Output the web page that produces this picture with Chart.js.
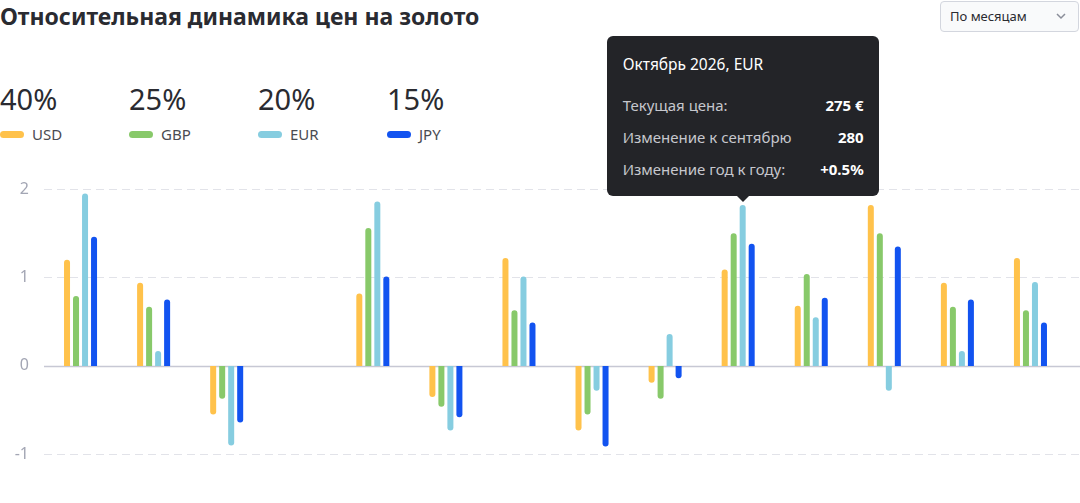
<!DOCTYPE html>
<html lang="ru">
<head>
<meta charset="utf-8">
<script src="https://cdn.jsdelivr.net/npm/chart.js@4/dist/chart.umd.min.js"></script>
<style>
  body { margin: 0; width: 1080px; height: 503px; background: #fff; position: relative; overflow: hidden;
    font-family: "Noto Sans", "Open Sans", sans-serif; color: #2a2b31; }
  h1 { position: absolute; left: 0; top: 0; margin: 0; font-size: 23px; font-weight: 700; line-height: 32px; letter-spacing: 0; }
  .sel { position: absolute; left: 940px; top: 1px; width: 139px; height: 31px; box-sizing: border-box;
    border: 1px solid #d3d6de; border-radius: 4px; background: #f9fafb; font-size: 13px; line-height: 29px;
    padding-left: 9px; color: #2a2b31; }
  .sel svg { position: absolute; right: 12px; top: 11px; }
  .item { position: absolute; top: 82px; }
  .pct { font-size: 29px; line-height: 34px; }
  .key { display: flex; align-items: center; font-size: 15px; color: #4a4b52; margin-top: 8px; line-height: 20px; }
  .pill { width: 24px; height: 7px; border-radius: 4px; margin-right: 8px; }
  #wrap { position: absolute; left: 0; top: 171px; width: 1080px; height: 300px; }
  #tip { position: absolute; display: none; width: 272px; height: 160px; box-sizing: border-box; background: #232428;
    border-radius: 6px; padding: 17px 15px 0 16px; color: #fff; }
  #tip::after { content: ""; position: absolute; left: 130px; bottom: -6px; border-left: 6px solid transparent;
    border-right: 6px solid transparent; border-top: 6px solid #232428; }
  #tip .t { font-size: 15.5px; line-height: 22px; margin-bottom: 14px; }
  #tip .r { display: flex; justify-content: space-between; font-size: 15px; line-height: 32px; color: #c6c7cd; }
  #tip .r b { color: #fff; font-weight: 700; }
</style>
</head>
<body>
<h1>Относительная динамика цен на золото</h1>
<div class="sel">По месяцам
  <svg width="10" height="7" viewBox="0 0 10 7"><polyline points="1,1 5,5 9,1" fill="none" stroke="#8a8d99" stroke-width="1.5"/></svg>
</div>
<div id="legend"></div>
<div id="wrap"><canvas id="chart"></canvas></div>
<div id="tip"></div>

<script>
"use strict";

const months = ["Январь 2026", "Февраль 2026", "Март 2026", "Апрель 2026", "Май 2026", "Июнь 2026",
  "Июль 2026", "Август 2026", "Сентябрь 2026", "Октябрь 2026", "Ноябрь 2026", "Декабрь 2026",
  "Январь 2027", "Февраль 2027"];
const currencies = ["USD", "GBP", "EUR", "JPY"];
const shares = ["40%", "25%", "20%", "15%"];
const colors = ["#ffc24b", "#88c96a", "#86cde0", "#1253f0"];

const usd = [1.20, 0.94, -0.55, null, 0.82, -0.35, 1.22, -0.73, -0.19, 1.09, 0.68, 1.82, 0.94, 1.22];
const gbp = [0.79, 0.67, -0.37, null, 1.56, -0.46, 0.63, -0.55, -0.37, 1.50, 1.04, 1.50, 0.67, 0.63];
const eur = [1.95, 0.17, -0.90, null, 1.86, -0.73, 1.01, -0.28, 0.36, 1.82, 0.55, -0.28, 0.17, 0.95];
const jpy = [1.46, 0.75, -0.64, null, 1.01, -0.58, 0.49, -0.91, -0.14, 1.38, 0.77, 1.35, 0.75, 0.49];
const yTicks = [-1, 0, 1, 2];

// tooltip shown in the picture: October 2026, EUR
const tipPoint = { datasetIndex: 2, index: 9 };
const tipLabels = ["Текущая цена:", "Изменение к сентябрю", "Изменение год к году:"];
const tipValues = ["275 €", "280", "+0.5%"];

// legend
const legend = document.getElementById("legend");
currencies.forEach((c, i) => {
  const d = document.createElement("div");
  d.className = "item"; d.style.left = (i * 129) + "px";
  d.innerHTML = `<div class="pct">${shares[i]}</div>
    <div class="key"><span class="pill" style="background:${colors[i]}"></span>${c}</div>`;
  legend.appendChild(d);
});

const gridPlugin = {
  id: "wideGrid",
  beforeDatasetsDraw(chart) {
    const { ctx, chartArea, scales: { y } } = chart;
    ctx.save();
    yTicks.forEach((v) => {
      const py = Math.round(y.getPixelForValue(v)) + 0.5;
      ctx.beginPath();
      if (v === 0) { ctx.setLineDash([]); ctx.strokeStyle = "#c7c8d4"; ctx.lineWidth = 1.5; }
      else { ctx.setLineDash([8, 5]); ctx.strokeStyle = "#e2e3e9"; ctx.lineWidth = 1; }
      ctx.moveTo(chartArea.left, py); ctx.lineTo(chart.width, py); ctx.stroke();
    });
    ctx.restore();
  },
};

function externalTip(context) {
  const t = context.tooltip;
  const el = document.getElementById("tip");
  if (t.opacity === 0 || !t.dataPoints || !t.dataPoints.length) { el.style.display = "none"; return; }
  const p = t.dataPoints[0];
  el.innerHTML = `<div class="t">${p.label}, ${p.dataset.label}</div>` +
    tipLabels.map((l, i) => `<div class="r"><span>${l}</span><b>${tipValues[i]}</b></div>`).join("");
  el.style.display = "block";
  const top = 171 + t.caretY;
  el.style.left = (t.caretX - 136) + "px";
  el.style.top = (top - 9 - 160) + "px";
}

const chart = new Chart(document.getElementById("chart"), {
  type: "bar",
  data: {
    labels: months,
    datasets: [usd, gbp, eur, jpy].map((d, i) => ({
      label: currencies[i], data: d, backgroundColor: colors[i], hoverBackgroundColor: colors[i],
      borderRadius: 3, borderSkipped: "start",
      categoryPercentage: 0.493, barPercentage: 0.667,
    })),
  },
  options: {
    responsive: true, maintainAspectRatio: false, animation: false,
    layout: { padding: { top: 18, right: 13, bottom: 4, left: 0 } },
    scales: {
      x: { display: false },
      y: {
        min: -1, max: 2,
        afterFit(s) { s.width = 44; },
        afterBuildTicks(s) { s.ticks = yTicks.map((v) => ({ value: v })); },
        ticks: { color: "#a3a6b4", padding: 7, font: { family: "Noto Sans", size: 16 } },
        grid: { display: false }, border: { display: false },
      },
    },
    plugins: {
      legend: { display: false },
      tooltip: { enabled: false, external: externalTip, mode: "point", intersect: true },
    },
  },
  plugins: [gridPlugin],
});

const el = chart.getDatasetMeta(tipPoint.datasetIndex).data[tipPoint.index];
chart.tooltip.setActiveElements([tipPoint], { x: el.x, y: el.y });
chart.setActiveElements([tipPoint]);
chart.update("none");
</script>
</body>
</html>
